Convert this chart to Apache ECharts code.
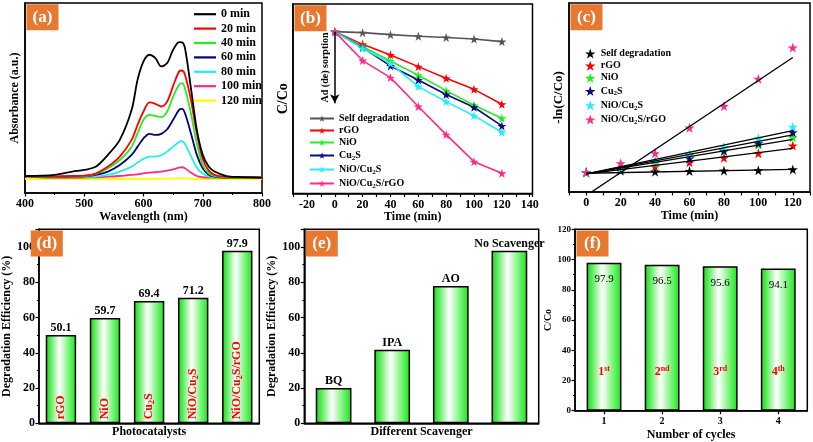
<!DOCTYPE html>
<html><head><meta charset="utf-8">
<script src="https://cdn.jsdelivr.net/npm/echarts@6/dist/echarts.min.js"></script>
<style>html,body{margin:0;padding:0;background:#fff}#c{width:813px;height:442px}</style>
</head><body><div id="c"></div>
<script>
// ---------- (a) UV-vis spectra ----------
const wavelengths = [400,450,480,500,520,540,560,580,590,600,610,620,630,640,650,660,665,670,680,690,700,710,720,740,760,800];
const spectraNames = ['0 min','20 min','40 min','60 min','80 min','100 min','120 min'];
const abs0   = [0.116,0.124,0.149,0.161,0.186,0.273,0.384,0.607,0.830,0.966,1.016,0.991,0.929,0.954,1.053,1.110,1.108,1.065,0.770,0.458,0.273,0.186,0.149,0.116,0.109,0.104];
const abs20  = [0.116,0.114,0.116,0.119,0.136,0.186,0.260,0.384,0.496,0.595,0.662,0.652,0.632,0.669,0.785,0.892,0.899,0.867,0.681,0.434,0.240,0.156,0.124,0.109,0.107,0.104];
const abs40  = [0.116,0.111,0.114,0.116,0.131,0.173,0.235,0.334,0.434,0.533,0.570,0.562,0.553,0.595,0.706,0.793,0.805,0.768,0.582,0.359,0.198,0.136,0.116,0.107,0.104,0.104];
const abs60  = [0.116,0.109,0.111,0.114,0.124,0.149,0.198,0.273,0.334,0.396,0.429,0.421,0.429,0.463,0.533,0.607,0.614,0.582,0.434,0.273,0.173,0.126,0.111,0.104,0.104,0.104];
const abs80  = [0.116,0.107,0.107,0.109,0.111,0.124,0.149,0.186,0.216,0.243,0.260,0.260,0.270,0.297,0.334,0.369,0.374,0.354,0.265,0.178,0.134,0.114,0.107,0.104,0.104,0.104];
const abs100 = [0.111,0.102,0.102,0.104,0.107,0.111,0.116,0.124,0.129,0.136,0.141,0.144,0.149,0.156,0.166,0.178,0.181,0.173,0.141,0.116,0.107,0.104,0.104,0.104,0.104,0.104];
const abs120 = [0.094,0.094,0.094,0.094,0.094,0.094,0.094,0.094,0.094,0.094,0.095,0.095,0.096,0.097,0.098,0.100,0.100,0.099,0.096,0.094,0.094,0.094,0.094,0.094,0.094,0.094];

// ---------- (b) C/C0 vs time ----------
const timePoints = [0,20,40,60,80,100,120];
const catalysts = ['Self degradation','rGO','NiO','Cu2S','NiO/Cu2S','NiO/Cu2S/rGO'];
const ccSelf      = [1,0.993,0.979,0.968,0.959,0.949,0.931];
const ccRGO       = [1,0.912,0.839,0.758,0.677,0.601,0.498];
const ccNiO       = [1,0.896,0.797,0.698,0.592,0.491,0.401];
const ccCu2S      = [1,0.889,0.763,0.666,0.565,0.477,0.348];
const ccNiOCu2S   = [1,0.885,0.781,0.620,0.516,0.419,0.304];
const ccComposite = [1,0.800,0.682,0.482,0.288,0.101,0.021];
const sorptionArrow = [1, 0.505];   // C/C0 range of the Ad(de)sorption arrow at t = 0

// ---------- (c) -ln(C/C0) kinetics ----------
const lnSelf      = [0,0.05,0.02,0.04,0.05,0.06,0.09];
const lnRGO       = [0,0.12,0.18,0.31,0.45,0.59,0.83];
const lnNiO       = [0,0.12,0.28,0.54,0.64,0.85,1.08];
const lnCu2S      = [0,0.10,0.33,0.43,0.67,0.90,1.24];
const lnNiOCu2S   = [0,0.12,0.33,0.57,0.79,1.05,1.41];
const lnComposite = [0,0.28,0.59,1.38,2.05,2.89,3.86];
const fitSlope     = [0.001,0.00658,0.00892,0.01008,0.01117,0.0356];
const fitIntercept = [-0.03,-0.05,-0.05,-0.05,-0.05,-0.72];

// ---------- (d) efficiency per catalyst ----------
const catalystBars = ['rGO','NiO','Cu2S','NiO/Cu2S','NiO/Cu2S/rGO'];
const efficiency = [50.1,59.7,69.4,71.2,97.9];

// ---------- (e) scavengers ----------
const scavengers = ['BQ','IPA','AO','No Scavenger'];
const scavEfficiency = [20.0,41.7,77.8,97.9];

// ---------- (f) cycles ----------
const cycles = ['1','2','3','4'];
const cycleValues = [97.9,96.5,95.6,94.1];
const cycleOrdinals = ['1st','2nd','3rd','4th'];

const panelTags = ['(a)','(b)','(c)','(d)','(e)','(f)'];

// ---------- styling / layout ----------
const FONT = "'Liberation Serif','Times New Roman',serif";
const spectraColors = ['#000000','#ff0000','#22ee22','#000080','#22eeee','#ff2a8a','#ffff00'];
const bColors = ['#555555','#ff0000','#22ee22','#0a0a80','#22eeff','#ff2a8a'];
const cColors = ['#000000','#ff0000','#22ee22','#0a0a80','#22eeff','#ff2a8a'];
const STAR = 'path://M50,0 L61.8,35.5 L97.6,35.5 L68.5,57.3 L79.4,91 L50,70 L20.6,91 L31.5,57.3 L2.4,35.5 L38.2,35.5 Z';

const grids = [
  {left:25,    top:3,     width:237,   height:190},
  {left:293,   top:4,     width:239.5, height:189.5},
  {left:569,   top:3,     width:241.7, height:189},
  {left:29.3,  top:229.3, width:230,   height:194},
  {left:304.3, top:229.3, width:234.4, height:194},
  {left:575,   top:229.3, width:232.3, height:181.4}
];

function chem(name, key) {
  return name.split('2').map(p => p ? '{' + key + '|' + p + '}' : '').join('{' + key + 's|2}');
}

const axisLine = {show:true, onZero:false, lineStyle:{color:'#000', width:1.5}};
const tickOut = {show:true, inside:false, length:3.5, lineStyle:{color:'#000', width:1.2}};
const minorOut = {show:true, splitNumber:2, length:2, lineStyle:{color:'#000', width:1}};
const lbl = (size, extra) => Object.assign({color:'#000', fontFamily:FONT, fontWeight:'bold', fontSize:size}, extra || {});
const nameTS = (size) => ({color:'#000', fontFamily:FONT, fontWeight:'bold', fontSize:size});

const barGradient = {type:'linear', x:0, y:0, x2:1, y2:0, colorStops:[
  {offset:0, color:'#1fcf1f'}, {offset:0.12, color:'#45e845'}, {offset:0.45, color:'#ffffff'},
  {offset:0.85, color:'#50f050'}, {offset:1, color:'#22dd22'}]};

const xAxis = [
  {gridIndex:0, type:'value', min:400, max:800, interval:100, axisLine, axisTick:tickOut, minorTick:minorOut,
   axisLabel:lbl(12,{margin:5}), splitLine:{show:false},
   name:'Wavelength (nm)', nameLocation:'middle', nameGap:16, nameTextStyle:nameTS(12)},
  {gridIndex:1, type:'value', min:-30, max:142, interval:10, axisLine, axisTick:tickOut,
   axisLabel:lbl(12,{margin:5, formatter:v => (v % 20 === 0 ? String(v) : '')}), splitLine:{show:false},
   name:'Time (min)', nameLocation:'middle', nameGap:16, nameTextStyle:nameTS(12)},
  {gridIndex:2, type:'value', min:-10, max:130, interval:10, axisLine, axisTick:tickOut,
   axisLabel:lbl(12,{margin:5, formatter:v => (v >= 0 && v % 20 === 0 ? String(v) : '')}), splitLine:{show:false},
   name:'Time (min)', nameLocation:'middle', nameGap:16, nameTextStyle:nameTS(12)},
  {gridIndex:3, type:'category', data:catalystBars, axisLine, axisTick:{show:false}, axisLabel:{show:false},
   name:'Photocatalysts', nameLocation:'middle', nameGap:3, nameTextStyle:nameTS(12)},
  {gridIndex:4, type:'category', data:scavengers, axisLine, axisTick:{show:false}, axisLabel:{show:false},
   name:'Different Scavenger', nameLocation:'middle', nameGap:3, nameTextStyle:nameTS(12)},
  {gridIndex:5, type:'category', data:cycles, axisLine, axisTick:Object.assign({alignWithLabel:true}, tickOut),
   axisLabel:lbl(10,{margin:6}),
   name:'Number of cycles', nameLocation:'middle', nameGap:18, nameTextStyle:nameTS(12)}
];

const pctFmt = v => (v % 20 === 0 ? String(v) : '');
const yAxis = [
  {gridIndex:0, type:'value', min:-0.01, max:1.4, axisLine, axisTick:{show:false}, axisLabel:{show:false}, splitLine:{show:false},
   name:'Absorbance (a.u.)', nameLocation:'middle', nameGap:4, nameTextStyle:nameTS(12)},
  {gridIndex:1, type:'value', min:-0.119, max:1.191, axisLine, axisTick:{show:false}, axisLabel:{show:false}, splitLine:{show:false},
   name:'C/Co', nameLocation:'middle', nameGap:3, nameTextStyle:nameTS(14)},
  {gridIndex:2, type:'value', min:-0.61, max:5.24, axisLine, axisTick:{show:false}, axisLabel:{show:false}, splitLine:{show:false},
   name:'-ln(C/Co)', nameLocation:'middle', nameGap:4, nameTextStyle:nameTS(13)},
  {gridIndex:3, type:'value', min:0, max:110, interval:20, axisLine, axisTick:tickOut, minorTick:minorOut,
   axisLabel:lbl(12,{margin:4, formatter:pctFmt}), splitLine:{show:false},
   name:'Degradation Efficiency (%)', nameLocation:'middle', nameGap:19, nameTextStyle:nameTS(12)},
  {gridIndex:4, type:'value', min:0, max:110, interval:20, axisLine, axisTick:tickOut, minorTick:minorOut,
   axisLabel:lbl(12,{margin:4, formatter:pctFmt}), splitLine:{show:false},
   name:'Degradation Efficiency (%)', nameLocation:'middle', nameGap:20, nameTextStyle:nameTS(12)},
  {gridIndex:5, type:'value', min:0, max:120, interval:20, axisLine, axisTick:tickOut, minorTick:minorOut,
   axisLabel:lbl(9,{margin:4, formatter:pctFmt}), splitLine:{show:false},
   name:'C/Co', nameLocation:'middle', nameGap:18, nameTextStyle:nameTS(10)}
];

const series = [];
// (a)
[abs0,abs20,abs40,abs60,abs80,abs100,abs120].forEach((arr, i) => {
  series.push({type:'line', name:spectraNames[i], xAxisIndex:0, yAxisIndex:0, smooth:0.3, symbol:'none',
    lineStyle:{color:spectraColors[i], width:1.8}, itemStyle:{color:spectraColors[i]},
    z: 10 - i, data: wavelengths.map((w, k) => [w, arr[k]])});
});
// (b)
[ccSelf,ccRGO,ccNiO,ccCu2S,ccNiOCu2S,ccComposite].forEach((arr, i) => {
  const s = {type:'line', name:catalysts[i], xAxisIndex:1, yAxisIndex:1, symbol:STAR, symbolSize:9,
    lineStyle:{color:bColors[i], width:1.6}, itemStyle:{color:bColors[i]},
    data: timePoints.map((t, k) => [t, arr[k]])};
  if (i === 0) {
    s.markLine = {silent:true, symbol:['none','arrow'], symbolSize:[7,9], label:{show:false},
      lineStyle:{color:'#000', width:1.5, type:'solid'},
      data:[[{coord:[0, sorptionArrow[0]]}, {coord:[0, sorptionArrow[1]]}]]};
  }
  series.push(s);
});
// (c) points
[lnSelf,lnRGO,lnNiO,lnCu2S,lnNiOCu2S,lnComposite].forEach((arr, i) => {
  series.push({type:'scatter', name:'c-' + catalysts[i], xAxisIndex:2, yAxisIndex:2, symbol:STAR, symbolSize:10,
    itemStyle:{color:cColors[i], opacity:1}, z:2,
    data: timePoints.map((t, k) => [t, arr[k]])});
});
// (c) linear fits
fitSlope.forEach((m, i) => {
  const x0 = timePoints[0], x1 = timePoints[timePoints.length - 1];
  series.push({type:'line', name:'fit-' + catalysts[i], xAxisIndex:2, yAxisIndex:2, symbol:'none', silent:true, clip:true,
    lineStyle:{color:'#000', width:1.3}, z:3,
    data:[[x0, fitIntercept[i] + m * x0], [x1, fitIntercept[i] + m * x1]]});
});
// (d)
const redRich = {
  t:{color:'#ff0000', fontFamily:FONT, fontWeight:'bold', fontSize:12, lineHeight:14},
  ts:{color:'#ff0000', fontFamily:FONT, fontWeight:'bold', fontSize:8, lineHeight:8, padding:[6,0,0,0]}
};
series.push({type:'bar', name:'d-eff', xAxisIndex:3, yAxisIndex:3, barWidth:'69%', barGap:'-100%',
  itemStyle:{color:barGradient, borderColor:'#000', borderWidth:1.5},
  label:{show:true, position:'top', distance:1, color:'#000', fontFamily:FONT, fontWeight:'bold', fontSize:12,
    formatter: p => p.value.toFixed(1)},
  data: efficiency});
series.push({type:'bar', name:'d-names', xAxisIndex:3, yAxisIndex:3, barWidth:'69%', barGap:'-100%', silent:true,
  itemStyle:{color:'rgba(0,0,0,0)', borderWidth:0},
  label:{show:true, position:'insideBottom', distance:4, rotate:90, align:'left', verticalAlign:'middle',
    formatter: p => chem(p.name, 't'), rich: redRich},
  data: efficiency});
// (e)
series.push({type:'bar', name:'e-eff', xAxisIndex:4, yAxisIndex:4, barWidth:'61%',
  itemStyle:{color:barGradient, borderColor:'#000', borderWidth:1.5},
  label:{show:true, position:'top', distance:1, color:'#000', fontFamily:FONT, fontWeight:'bold', fontSize:12,
    formatter: p => p.name},
  data: scavEfficiency});
// (f)
series.push({type:'bar', name:'f-val', xAxisIndex:5, yAxisIndex:5, barWidth:'60%', barGap:'-100%',
  itemStyle:{color:barGradient, borderColor:'#000', borderWidth:1.5},
  label:{show:true, position:'insideTop', distance:11, color:'#000', fontFamily:FONT, fontSize:11,
    formatter: p => p.value.toFixed(1)},
  data: cycleValues});
series.push({type:'bar', name:'f-ord', xAxisIndex:5, yAxisIndex:5, barWidth:'60%', barGap:'-100%', silent:true,
  itemStyle:{color:'rgba(0,0,0,0)', borderWidth:0},
  label:{show:true, position:'insideBottom', distance:32,
    formatter: p => { const m = cycleOrdinals[p.dataIndex].match(/^(\d+)(\D+)$/); return '{n|' + m[1] + '}{sup|' + m[2] + '}'; },
    rich:{
      n:{color:'#ff0000', fontFamily:FONT, fontWeight:'bold', fontSize:12, lineHeight:14},
      sup:{color:'#ff0000', fontFamily:FONT, fontWeight:'bold', fontSize:8, lineHeight:8, padding:[0,0,6,0]}
    }},
  data: cycleValues});

const legRich = {
  t:{color:'#000', fontFamily:FONT, fontWeight:'bold', fontSize:10, lineHeight:13},
  ts:{color:'#000', fontFamily:FONT, fontWeight:'bold', fontSize:7, lineHeight:8, padding:[5,0,0,0]}
};
const legend = [
  {data:spectraNames, orient:'vertical', left:194, top:7, icon:'rect', itemWidth:22, itemHeight:2.2, itemGap:0, padding:0,
   textStyle:{color:'#000', fontFamily:FONT, fontWeight:'bold', fontSize:12, lineHeight:14.4}, selectedMode:false},
  {data:catalysts, orient:'vertical', left:309, top:113.5, itemWidth:24, itemHeight:8, itemGap:2, padding:0,
   formatter: n => chem(n, 't'), textStyle:{rich:legRich}, selectedMode:false},
  {data:catalysts.map(n => 'c-' + n), orient:'vertical', left:585, top:48.5, itemWidth:11, itemHeight:10, itemGap:2.2, padding:0,
   formatter: n => chem(n.slice(2), 't'), textStyle:{rich:legRich}, selectedMode:false}
];

const chart = echarts.init(document.getElementById('c'));
chart.setOption({
  animation:false,
  backgroundColor:'#ffffff',
  grid: grids.map(g => Object.assign({show:true, borderColor:'#000', borderWidth:1.5, backgroundColor:'transparent'}, g)),
  xAxis, yAxis, legend, series
});

// panel tags and the Ad(de)sorption text
const graphics = [];
grids.forEach((g, i) => {
  graphics.push({type:'rect', shape:{x:g.left + 1.5, y:g.top + 1.2, width:32, height:26},
    style:{fill:'#E8782F'}, z:100});
  graphics.push({type:'text', x:g.left + 17.5, y:g.top + 14.5, z:101,
    style:{text:panelTags[i], fill:'#ffffff', font:'bold 17px ' + FONT,
      textAlign:'center', textVerticalAlign:'middle', align:'center', verticalAlign:'middle'}});
});
const mid = chart.convertToPixel({xAxisIndex:1, yAxisIndex:1}, [0, (sorptionArrow[0] + sorptionArrow[1]) / 2]);
graphics.push({type:'text', x:mid[0] - 9, y:mid[1], rotation:Math.PI / 2, z:101,
  style:{text:'Ad (de) sorption', fill:'#000', font:'bold 10px ' + FONT,
    textAlign:'center', textVerticalAlign:'middle', align:'center', verticalAlign:'middle'}});
chart.setOption({graphic:{elements:graphics}});
</script></body></html>
